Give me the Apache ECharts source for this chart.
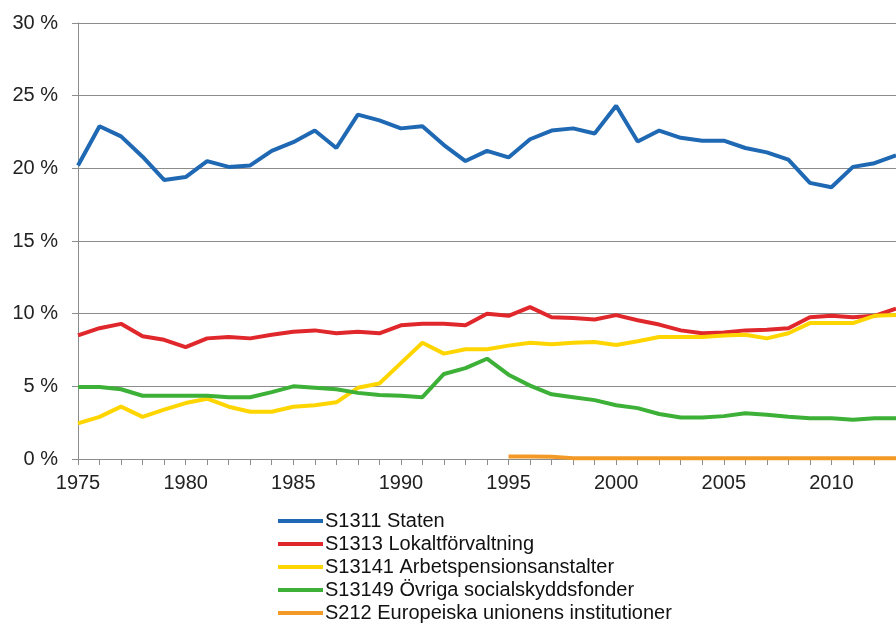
<!DOCTYPE html>
<html>
<head>
<meta charset="utf-8">
<script src="https://cdn.jsdelivr.net/npm/echarts@6/dist/echarts.min.js"></script>
<style>
  html, body { margin: 0; padding: 0; background: #fff; }
  #chart { width: 896px; height: 624px; }
</style>
</head>
<body>
<div id="chart"></div>
<script>
var years = [];
for (var y = 1975; y <= 2013; y++) years.push(String(y));

var staten = [20.2, 22.9, 22.2, 20.8, 19.2, 19.4, 20.5, 20.1, 20.2, 21.2, 21.8, 22.6, 21.4, 23.7,
    23.3, 22.75, 22.9, 21.6, 20.5, 21.2, 20.75, 22.0, 22.6, 22.75, 22.4, 24.3, 21.85, 22.6,
    22.1, 21.9, 21.9, 21.4, 21.1, 20.6, 19.0, 18.7, 20.1, 20.35, 20.9];
var lokal = [8.5, 9.0, 9.3, 8.45, 8.2, 7.7, 8.3, 8.4, 8.3, 8.55, 8.75, 8.85, 8.65, 8.75,
    8.65, 9.2, 9.3, 9.3, 9.2, 10.0, 9.85, 10.45, 9.75, 9.7, 9.6, 9.9, 9.55, 9.25,
    8.85, 8.65, 8.7, 8.85, 8.9, 9.0, 9.75, 9.85, 9.75, 9.85, 10.35];
var arbets = [2.45, 2.9, 3.6, 2.9, 3.4, 3.85, 4.15, 3.6, 3.25, 3.25, 3.6, 3.7, 3.9, 4.9,
    5.2, 6.6, 8.0, 7.25, 7.55, 7.55, 7.8, 8.0, 7.9, 8.0, 8.05, 7.85, 8.1, 8.4,
    8.4, 8.4, 8.5, 8.55, 8.3, 8.65, 9.35, 9.35, 9.35, 9.85, 9.9];
var ovriga = [4.95, 4.95, 4.8, 4.35, 4.35, 4.35, 4.35, 4.25, 4.25, 4.6, 5.0, 4.9, 4.8, 4.55,
    4.4, 4.35, 4.25, 5.85, 6.25, 6.9, 5.8, 5.05, 4.45, 4.25, 4.05, 3.7, 3.5, 3.1,
    2.85, 2.85, 2.95, 3.15, 3.05, 2.9, 2.8, 2.8, 2.7, 2.8, 2.8];
var eu = [null, null, null, null, null, null, null, null, null, null, null, null, null, null,
    null, null, null, null, null, null, 0.18, 0.18, 0.15, 0.06, 0.05, 0.05, 0.05, 0.05,
    0.05, 0.05, 0.05, 0.05, 0.05, 0.05, 0.05, 0.05, 0.05, 0.05, 0.05];

var names = ['S1311 Staten', 'S1313 Lokaltförvaltning', 'S13141 Arbetspensionsanstalter',
    'S13149 Övriga socialskyddsfonder', 'S212 Europeiska unionens institutioner'];
var colors = ['#1f68b3', '#e0282c', '#ffd500', '#3cb037', '#f39a26'];
var seriesData = [staten, lokal, arbets, ovriga, eu];

var myChart = echarts.init(document.getElementById('chart'));

var series = seriesData.map(function(d, i) {
    return {
        name: names[i],
        type: 'line',
        data: d,
        symbol: 'none',
        lineStyle: { width: 4, color: colors[i] },
        itemStyle: { color: colors[i] },
        animation: false
    };
});

var option = {
    animation: false,
    textStyle: { fontFamily: 'Liberation Sans, Arial, sans-serif' },
    grid: { left: 78, right: -4, top: 23, bottom: 165 },
    xAxis: {
        type: 'category',
        data: years,
        boundaryGap: false,
        axisLine: { lineStyle: { color: '#8c8c8c', width: 1 } },
        axisTick: { interval: 0, length: 6, lineStyle: { color: '#8c8c8c' } },
        axisLabel: { interval: 4, color: '#222', fontSize: 20, margin: 14 },
        splitLine: { show: false }
    },
    yAxis: {
        type: 'value',
        min: 0,
        max: 30,
        interval: 5,
        axisLine: { show: true, lineStyle: { color: '#8c8c8c', width: 1 } },
        axisTick: { show: true, length: 6, lineStyle: { color: '#8c8c8c' } },
        axisLabel: { formatter: '{value} %', color: '#222', fontSize: 20, margin: 20 },
        splitLine: { lineStyle: { color: '#8c8c8c', width: 1 } }
    },
    legend: {
        orient: 'vertical',
        left: 278,
        top: 511,
        padding: 0,
        icon: 'rect',
        itemWidth: 45,
        itemHeight: 4,
        itemGap: 3,
        textStyle: { color: '#111', fontSize: 20, padding: [0, 0, 0, -3] },
        data: names
    },
    series: series
};

myChart.setOption(option);

window.addEventListener('resize', function() {
    myChart.resize();
});
</script>
</body>
</html>
